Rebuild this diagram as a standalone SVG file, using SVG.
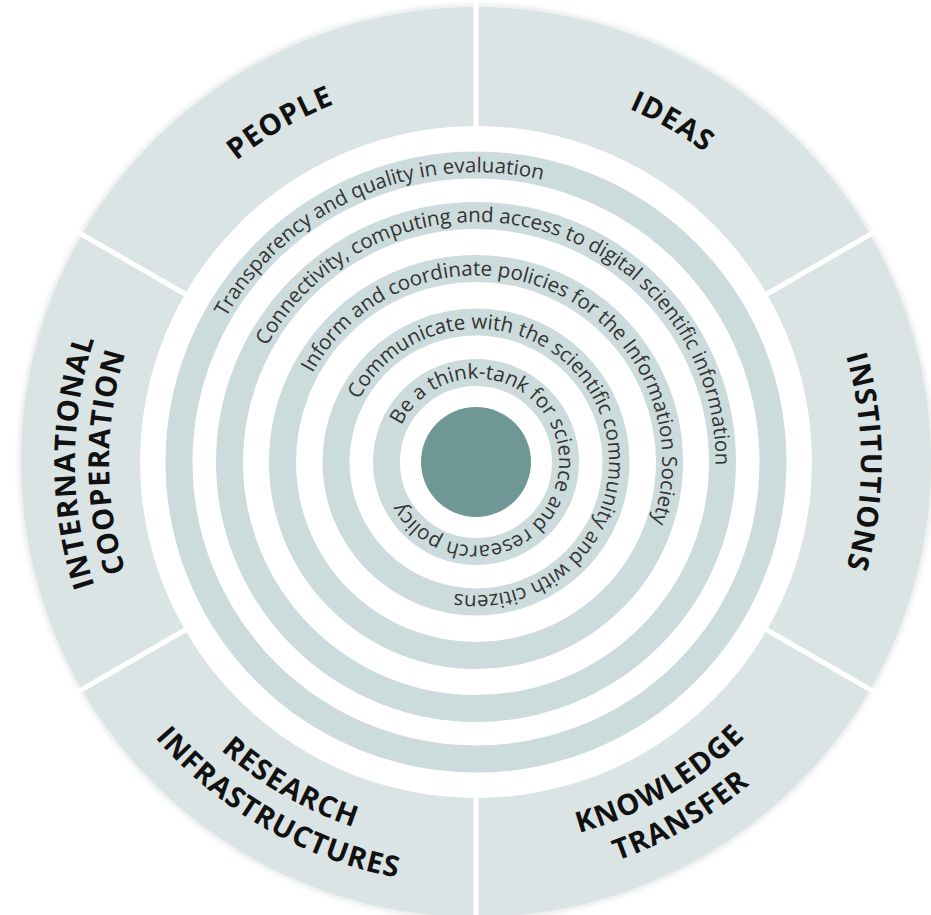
<svg xmlns="http://www.w3.org/2000/svg" width="931" height="915" viewBox="0 0 931 915">
  <style>
    .seg { fill: #dbe4e4; }
    .band { fill: none; stroke: #ccdbdb; stroke-width: 27; }
    .div { stroke: #ffffff; stroke-width: 5; }
    .ring { font-family: "Open Sans", "Noto Sans", sans-serif; font-size: 20.5px; fill: #333333; }
    .lab { font-family: "Open Sans", "Noto Sans", sans-serif; font-size: 29px; font-weight: 700; fill: #111111; letter-spacing: 1px; }
  </style>
  <defs>
    <filter id="halo" x="-10%" y="-10%" width="120%" height="120%">
      <feGaussianBlur stdDeviation="2.5"/>
    </filter>
    <path id="pPeople" d="M142.58,269.5 A385,385 0 0 1 476,77"/>
    <path id="pIdeas" d="M476,77 A385,385 0 0 1 809.42,269.5"/>
    <path id="pInst" d="M809.42,269.5 A385,385 0 0 1 809.42,654.5"/>
    <path id="pIntl1" d="M128.72,662.5 A401,401 0 0 1 128.72,261.5"/>
    <path id="pIntl2" d="M158.17,645.5 A367,367 0 0 1 158.17,278.5"/>
    <path id="pRes1" d="M142.58,654.5 A385,385 0 0 0 476,847"/>
    <path id="pRes2" d="M109.67,673.5 A423,423 0 0 0 476,885"/>
    <path id="pKno1" d="M476,847 A385,385 0 0 0 809.42,654.5"/>
    <path id="pKno2" d="M476,885 A423,423 0 0 0 842.33,673.5"/>
    <path id="r1" d="M225.72,317.5 A289,289 0 1 1 726.28,606.5 A289,289 0 1 1 225.72,317.5"/>
    <path id="r2" d="M266.97,346.13 A239,239 0 1 1 685.03,577.87 A239,239 0 1 1 266.97,346.13"/>
    <path id="r3" d="M312.54,373.25 A186,186 0 1 1 639.46,550.75 A186,186 0 1 1 312.54,373.25"/>
    <path id="r4" d="M359.01,399.8 A132.5,132.5 0 1 1 592.99,524.2 A132.5,132.5 0 1 1 359.01,399.8"/>
    <path id="r5" d="M401.4,425.62 A83,83 0 1 1 550.6,498.38 A83,83 0 1 1 401.4,425.62"/>
  </defs>

  <circle cx="476" cy="462" r="455" fill="none" stroke="#d6dcdc" stroke-width="5" opacity="0.6" filter="url(#halo)"/>

  <g id="people">
    <path class="seg" d="M81.96,234.5 A455,455 0 0 1 476,7 L476,126 A336,336 0 0 0 185.02,294 Z"/>
    <text class="lab"><textPath href="#pPeople" startOffset="50%" text-anchor="middle">PEOPLE</textPath></text>
  </g>
  <g id="ideas">
    <path class="seg" d="M476,7 A455,455 0 0 1 870.04,234.5 L766.98,294 A336,336 0 0 0 476,126 Z"/>
    <text class="lab"><textPath href="#pIdeas" startOffset="50%" text-anchor="middle">IDEAS</textPath></text>
  </g>
  <g id="institutions">
    <path class="seg" d="M870.04,234.5 A455,455 0 0 1 870.04,689.5 L766.98,630 A336,336 0 0 0 766.98,294 Z"/>
    <text class="lab"><textPath href="#pInst" startOffset="50%" text-anchor="middle">INSTITUTIONS</textPath></text>
  </g>
  <g id="knowledge-transfer">
    <path class="seg" d="M870.04,689.5 A455,455 0 0 1 476,917 L476,798 A336,336 0 0 0 766.98,630 Z"/>
    <text class="lab"><textPath href="#pKno1" startOffset="50%" text-anchor="middle">KNOWLEDGE</textPath></text>
    <text class="lab"><textPath href="#pKno2" startOffset="50%" text-anchor="middle">TRANSFER</textPath></text>
  </g>
  <g id="research-infrastructures">
    <path class="seg" d="M476,917 A455,455 0 0 1 81.96,689.5 L185.02,630 A336,336 0 0 0 476,798 Z"/>
    <text class="lab"><textPath href="#pRes1" startOffset="50%" text-anchor="middle">RESEARCH</textPath></text>
    <text class="lab"><textPath href="#pRes2" startOffset="50%" text-anchor="middle">INFRASTRUCTURES</textPath></text>
  </g>
  <g id="international-cooperation">
    <path class="seg" d="M81.96,689.5 A455,455 0 0 1 81.96,234.5 L185.02,294 A336,336 0 0 0 185.02,630 Z"/>
    <text class="lab"><textPath href="#pIntl1" startOffset="50%" text-anchor="middle">INTERNATIONAL</textPath></text>
    <text class="lab"><textPath href="#pIntl2" startOffset="50%" text-anchor="middle">COOPERATION</textPath></text>
  </g>

  <g id="connectors">
    <line class="div" x1="476" y1="128" x2="476" y2="2"/>
    <line class="div" x1="476" y1="796" x2="476" y2="922"/>
    <line class="div" x1="766.98" y1="294" x2="874.37" y2="232"/>
    <line class="div" x1="766.98" y1="630" x2="874.37" y2="692"/>
    <line class="div" x1="185.02" y1="294" x2="77.63" y2="232"/>
    <line class="div" x1="185.02" y1="630" x2="77.63" y2="692"/>
  </g>

  <g id="ring-evaluation">
    <circle class="band" cx="476" cy="462" r="297"/>
    <text class="ring"><textPath href="#r1">Transparency and quality in evaluation</textPath></text>
  </g>
  <g id="ring-connectivity">
    <circle class="band" cx="476" cy="462" r="246.5"/>
    <text class="ring"><textPath href="#r2">Connectivity, computing and access to digital scientific information</textPath></text>
  </g>
  <g id="ring-policies">
    <circle class="band" cx="476" cy="462" r="193.5"/>
    <text class="ring"><textPath href="#r3">Inform and coordinate policies for the Information Society</textPath></text>
  </g>
  <g id="ring-communicate">
    <circle class="band" cx="476" cy="462" r="140"/>
    <text class="ring"><textPath href="#r4">Communicate with the scientific community and with citizens</textPath></text>
  </g>
  <g id="ring-think-tank">
    <circle class="band" cx="476" cy="462" r="89.5"/>
    <text class="ring"><textPath href="#r5">Be a think-tank for science and research policy</textPath></text>
  </g>
  <g id="core">
    <circle cx="476" cy="462" r="55" fill="#6e9795"/>
  </g>
</svg>
